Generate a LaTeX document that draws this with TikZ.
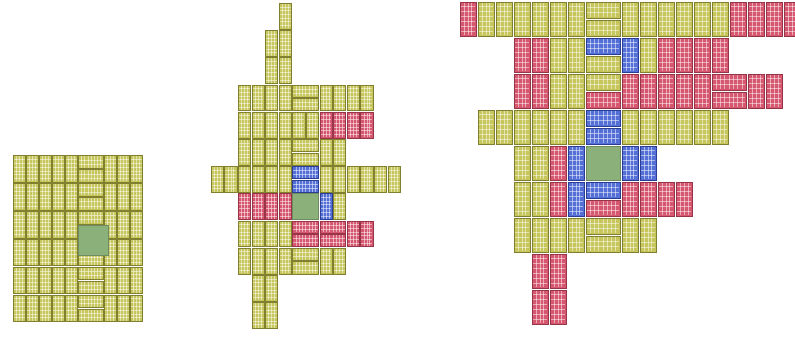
\documentclass[tikz,border=0pt]{standalone}
\usepackage{tikz}

\definecolor{tYf}{RGB}{198,198,92}
\definecolor{tYd}{RGB}{128,128,48}
\definecolor{tRf}{RGB}{214,88,112}
\definecolor{tRd}{RGB}{150,52,72}
\definecolor{tBf}{RGB}{84,112,214}
\definecolor{tBd}{RGB}{42,62,150}
\definecolor{tGf}{RGB}{140,176,122}
\definecolor{tGd}{RGB}{110,140,96}

\tikzset{
  tY/.style={fill=tYf, draw=tYd, line width=.5pt},
  tR/.style={fill=tRf, draw=tRd, line width=.5pt},
  tB/.style={fill=tBf, draw=tBd, line width=.5pt},
  tG/.style={fill=tGf, draw=tGd, line width=.5pt},
  inl/.style={draw=white, opacity=.5, line width=.5pt},
}

% upright tile: column, row, look
\newcommand\vtile[3]{%
  \begin{scope}[shift={(#1,2*#2)}]
    \fill[#3] (.05,.05) rectangle (.95,1.95);
    \foreach \i in {.29,.5,.71} \draw[inl] (\i,.1) -- (\i,1.9);
    \foreach \j in {.32,.59,.86,1.14,1.41,1.68} \draw[inl] (.1,\j) -- (.9,\j);
  \end{scope}}
% lying tile: column, half row, look
\newcommand\htile[3]{%
  \begin{scope}[shift={(#1,#2)}]
    \fill[#3] (.05,.05) rectangle (1.95,.95);
    \foreach \i in {.29,.52,.76,1,1.24,1.48,1.71} \draw[inl] (\i,.1) -- (\i,.9);
    \foreach \j in {.35,.65} \draw[inl] (.1,\j) -- (1.9,\j);
  \end{scope}}

\begin{document}
\begin{tikzpicture}[x=0.03cm, y=-0.03cm]
  \useasboundingbox (0,0) rectangle (795,337);
  \clip (0,0) rectangle (795,337);

  % left: full block
  \begin{scope}[shift={(13,155)}, xscale=13, yscale=13.92]
    \foreach \r in {0,...,5} {
      \foreach \c in {0,...,4,7,8,9} \vtile{\c}{\r}{tY};
    }
    \foreach \h in {0,...,11} \htile{5}{\h}{tY};
  \end{scope}
  \fill[tG] (78,225) rectangle (108,255);

  % middle
  \begin{scope}[shift={(292,193)}, scale=13.6]
    \vtile{-1}{-7}{tY}
    \foreach \r in {-6,-5} {
      \vtile{-2}{\r}{tY}
      \vtile{-1}{\r}{tY}
    }
    \foreach \c in {-4,...,-1,2,3,4,5} \vtile{\c}{-4}{tY};
    \htile{0}{-8}{tY} \htile{0}{-7}{tY}
    \foreach \c in {-4,...,1} \vtile{\c}{-3}{tY};
    \foreach \c in {2,...,5} \vtile{\c}{-3}{tR};
    \foreach \c in {-4,...,-1,2,3} \vtile{\c}{-2}{tY};
    \htile{0}{-4}{tY} \htile{0}{-3}{tY}
    \foreach \c in {-6,...,-1,2,3,...,7} \vtile{\c}{-1}{tY};
    \htile{0}{-2}{tB} \htile{0}{-1}{tB}
    \foreach \c in {-4,...,-1} \vtile{\c}{0}{tR};
    \fill[tG] (.05,.05) rectangle (1.95,1.95);
    \vtile{2}{0}{tB}
    \vtile{3}{0}{tY}
    \foreach \c in {-4,...,-1} \vtile{\c}{1}{tY};
    \foreach \c in {0,2} {
      \htile{\c}{2}{tR}
      \htile{\c}{3}{tR}
    }
    \vtile{4}{1}{tR}
    \vtile{5}{1}{tR}
    \foreach \c in {-4,...,-1,2,3} \vtile{\c}{2}{tY};
    \htile{0}{4}{tY} \htile{0}{5}{tY}
    \foreach \r in {3,4} {
      \vtile{-3}{\r}{tY}
      \vtile{-2}{\r}{tY}
    }
  \end{scope}

  % right
  \begin{scope}[shift={(585,145)}, scale=18]
    % top line
    \vtile{-7}{-4}{tR}
    \foreach \c in {-6,...,-1,2,3,...,7} \vtile{\c}{-4}{tY};
    \htile{0}{-8}{tY} \htile{0}{-7}{tY}
    \foreach \c in {8,...,11} \vtile{\c}{-4}{tR};
    % second line
    \foreach \c in {-4,-3} \vtile{\c}{-3}{tR};
    \foreach \c in {-2,-1} \vtile{\c}{-3}{tY};
    \htile{0}{-6}{tB} \htile{0}{-5}{tY}
    \vtile{2}{-3}{tB}
    \vtile{3}{-3}{tY}
    \foreach \c in {4,...,7} \vtile{\c}{-3}{tR};
    % third line
    \foreach \c in {-4,-3} \vtile{\c}{-2}{tR};
    \foreach \c in {-2,-1} \vtile{\c}{-2}{tY};
    \htile{0}{-4}{tY} \htile{0}{-3}{tR}
    \foreach \c in {2,...,6,9,10} \vtile{\c}{-2}{tR};
    \htile{7}{-4}{tR} \htile{7}{-3}{tR}
    % fourth line
    \foreach \c in {-6,...,-1,2,3,...,7} \vtile{\c}{-1}{tY};
    \htile{0}{-2}{tB} \htile{0}{-1}{tB}
    % centre
    \foreach \r in {0,1} {
      \vtile{-4}{\r}{tY}
      \vtile{-3}{\r}{tY}
      \vtile{-2}{\r}{tR}
      \vtile{-1}{\r}{tB}
    }
    \fill[tG] (.05,.05) rectangle (1.95,1.95);
    \vtile{2}{0}{tB}
    \vtile{3}{0}{tB}
    \htile{0}{2}{tB} \htile{0}{3}{tR}
    \foreach \c in {2,...,5} \vtile{\c}{1}{tR};
    \foreach \c in {-4,...,-1,2,3} \vtile{\c}{2}{tY};
    \htile{0}{4}{tY} \htile{0}{5}{tY}
    \foreach \r in {3,4} {
      \vtile{-3}{\r}{tR}
      \vtile{-2}{\r}{tR}
    }
  \end{scope}
\end{tikzpicture}
\end{document}
